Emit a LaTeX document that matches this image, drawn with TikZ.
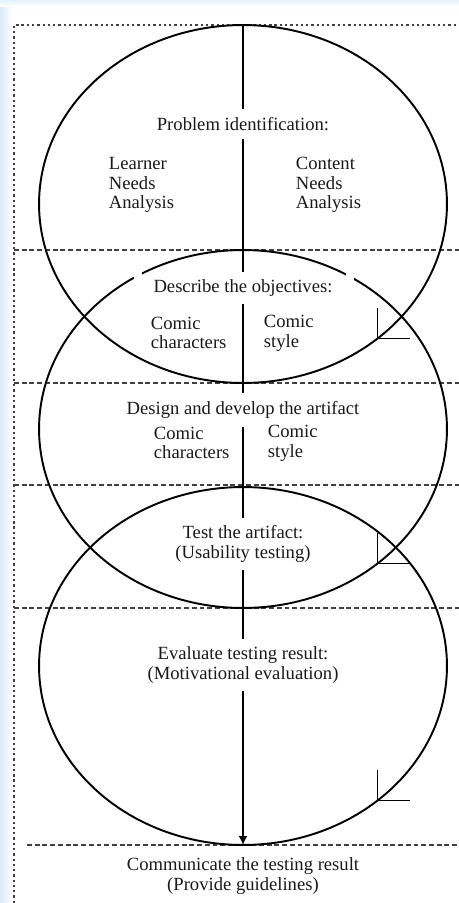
\documentclass[tikz,border=0pt]{standalone}
\usepackage{fontspec}
\setmainfont{Liberation Serif}
\usetikzlibrary{shapes.geometric, arrows.meta}

\definecolor{slideblue}{RGB}{216,236,247}

\begin{document}
\begin{tikzpicture}[> = {Latex[length = 5pt, width = 5pt]}, x = 0.02cm, y = -0.02cm, line width = 1.1pt,
	phase/.style = {ellipse, draw, inner sep = 0, outer sep = 0, minimum width = 8.16cm, minimum height = 7.16cm},
	txt/.style = {font = \fontsize{10.6}{11.2}\selectfont, inner xsep = 0, inner ysep = 4pt, align = center, text = black!90},
	side/.style = {txt, anchor = west, align = left},
	sepline/.style = {black!75, line width = 1pt, dash pattern = on 2.8pt off 1.6pt},
	frameline/.style = {black!75, line width = 1.3pt, dash pattern = on 1.3pt off 1.7pt}]

	% Definitions

	\def\W{459}		% Width of picture
	\def\H{903}		% Height of picture
	\def\L{14}		% Left border
	\def\r{-45}		% Where the turn marks sit on each loop

	\useasboundingbox (0, 0) rectangle (\W, \H);

	% Slide background at the edges

	\shade [left color = slideblue, right color = white] (0, 0) rectangle (\L - 2, \H);
	\shade [top color = slideblue!70, bottom color = white] (0, 0) rectangle (\W, 6);

	% Border and stage lines

	\draw [frameline] (\L, \H) -- (\L, 25) -- (\W, 25);
	\foreach \y in {250, 383, 485, 608}
		\draw [sepline] (\L, \y) -- (\W, \y);
	\draw [sepline] (27, 845) -- (\W, 845);

	% Loops

	\node [phase] (e1) at (243, 204) {};
	\node [phase] (e2) at (243, 429) {};
	\node [phase] (e3) at (243, 666) {};

	% Breaks in the arc of the second loop
	\fill [white] (134, 270) rectangle (142, 281);
	\fill [white] (346, 270) rectangle (354, 282);

	% Turn marks

	\foreach \e in {e1, e2, e3}
		\draw (\e.\r) ++(0, -31) -- (\e.\r) -- ++(32, 0);

	% Stages

	\node [txt] (prob) at (243, 124) {Problem identification:};
	\node [side] (learner) at (108, 185) {Learner\\Needs\\Analysis};
	\node [side] (content) at (295, 185) {Content\\Needs\\Analysis};

	\node [txt] (desc) at (243, 288) {Describe the objectives:};
	\node [side] (chars1) at (150, 333) {Comic\\characters};
	\node [side] (style1) at (263, 333) {Comic\\style};

	\node [txt] (design) at (243, 410) {Design and develop the artifact};
	\node [side] (chars2) at (153, 443) {Comic\\characters};
	\node [side] (style2) at (267, 443) {Comic\\style};

	\node [txt] (test) at (243, 544) {Test the artifact:\\(Usability testing)};
	\node [txt] (eval) at (243, 665) {Evaluate testing result:\\(Motivational evaluation)};
	\node [txt] (comm) at (243, 876) {Communicate the testing result\\(Provide guidelines)};

	% Centre line

	\foreach \a/\b in {e1.north/prob, prob/desc, desc/design, design/test, test/eval}
		\draw (\a) -- (\b);
	\draw [->] (eval) -- (e3.south);

\end{tikzpicture}
\end{document}
